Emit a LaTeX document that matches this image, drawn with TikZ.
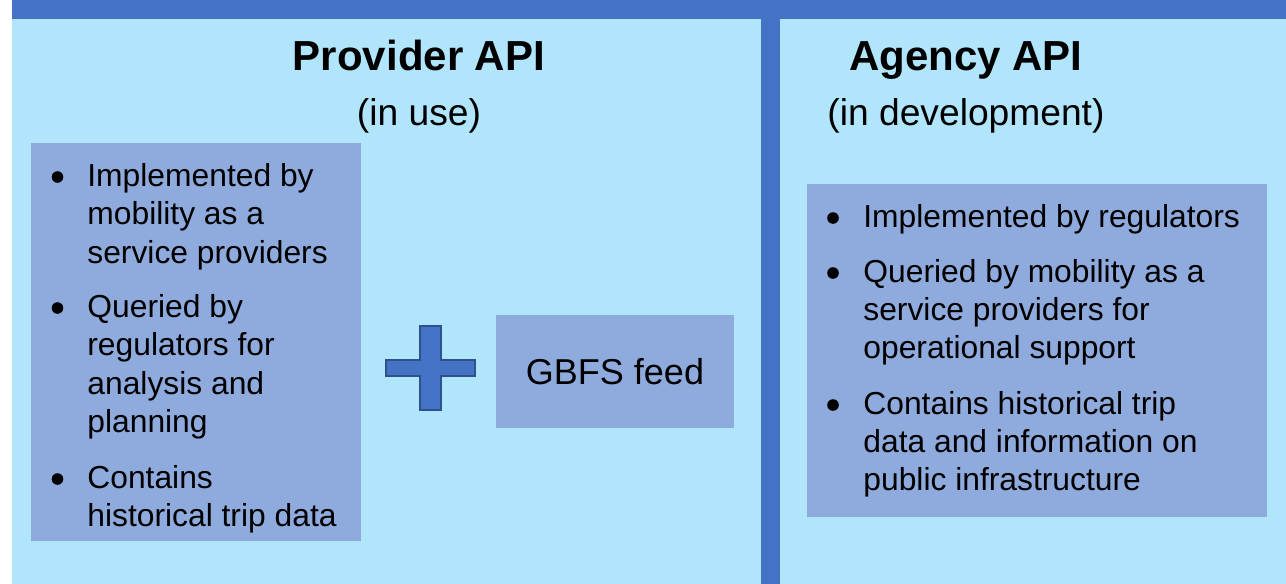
\documentclass[tikz,border=0pt]{standalone}
\usepackage{fontspec}
\setmainfont{Liberation Sans}
\definecolor{panel}{HTML}{B1E5FC}
\definecolor{bar}{HTML}{4472C4}
\definecolor{boxc}{HTML}{8FAADC}
\definecolor{plusedge}{HTML}{2F528F}
\begin{document}
\begin{tikzpicture}[x=0.5pt,y=-0.5pt,
  lineitem/.style={anchor=base west, inner sep=0pt, font=\fontsize{15.9}{19}\selectfont},
  dot/.style={circle, fill=black, inner sep=0pt, minimum size=5.8pt},
  titletext/.style={anchor=base, inner sep=0pt, font=\bfseries\fontsize{21}{25}\selectfont},
  subtext/.style={anchor=base, inner sep=0pt, font=\fontsize{18.6}{22}\selectfont},
  listbox/.style={fill=boxc, inner sep=0pt, anchor=north west}]
\useasboundingbox (0,0) rectangle (1286,584);
\fill[white] (0,0) rectangle (1286,584);
\fill[panel] (12,19) rectangle (1286,584);
\fill[bar] (12,0) rectangle (1286,19);
\fill[bar] (761,19) rectangle (780,584);

% titles
\node[titletext] (ptitle) at (419,70) {Provider API};
\node[subtext] (psub) at (419,125) {(in use)};
\node[titletext] (atitle) at (966,70) {Agency API};
\node[subtext] (asub) at (966,125) {(in development)};

% left list box
\node[listbox, minimum width=165pt, minimum height=199pt] (lbox) at (31,143) {};
\node[dot] (lb1) at (57.5,177) {};
\node[lineitem] (l1a) at (87,186) {Implemented by};
\node[lineitem] (l1b) at (87,224.5) {mobility as a};
\node[lineitem] (l1c) at (87,263) {service providers};
\node[dot] (lb2) at (57.5,308) {};
\node[lineitem] (l2a) at (87,317) {Queried by};
\node[lineitem] (l2b) at (87,355.5) {regulators for};
\node[lineitem] (l2c) at (87,394) {analysis and};
\node[lineitem] (l2d) at (87,432.5) {planning};
\node[dot] (lb3) at (57.5,479) {};
\node[lineitem] (l3a) at (87,488) {Contains};
\node[lineitem] (l3b) at (87,526.5) {historical trip data};

% plus sign
\draw[fill=bar, draw=plusedge, line width=0.75pt]
  (420,326) -- (441,326) -- (441,360) -- (475,360) -- (475,376) -- (441,376)
  -- (441,410) -- (420,410) -- (420,376) -- (386,376) -- (386,360) -- (420,360) -- cycle;

% GBFS box
\node[fill=boxc, inner sep=0pt, minimum width=119pt, minimum height=56.5pt,
  font=\fontsize{18}{22}\selectfont] (gbfs) at (615,371.5) {GBFS feed};

% right list box
\node[listbox, minimum width=230pt, minimum height=166.5pt] (rbox) at (807,184) {};
\node[dot] (rb1) at (833,218) {};
\node[lineitem] (r1a) at (863,227) {Implemented by regulators};
\node[dot] (rb2) at (833,273) {};
\node[lineitem] (r2a) at (863,282) {Queried by mobility as a};
\node[lineitem] (r2b) at (863,320) {service providers for};
\node[lineitem] (r2c) at (863,358) {operational support};
\node[dot] (rb3) at (833,405) {};
\node[lineitem] (r3a) at (863,414) {Contains historical trip};
\node[lineitem] (r3b) at (863,452) {data and information on};
\node[lineitem] (r3c) at (863,490) {public infrastructure};
\end{tikzpicture}
\end{document}
